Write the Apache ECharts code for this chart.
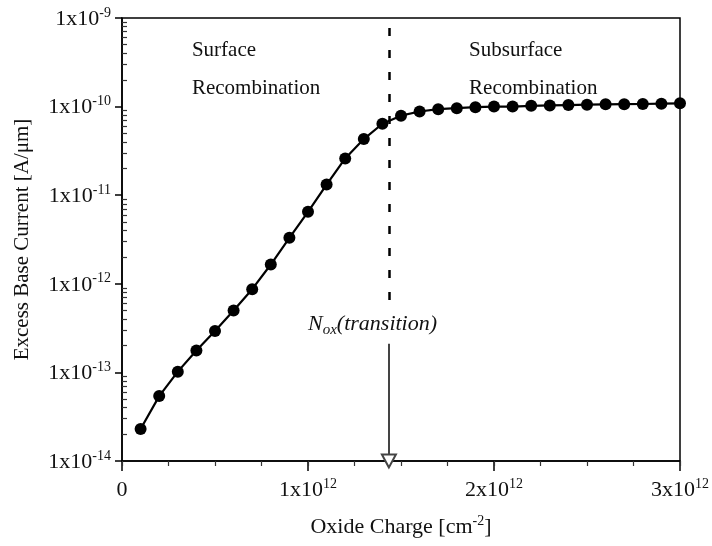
<!DOCTYPE html>
<html><head><meta charset="utf-8">
<script src="https://cdn.jsdelivr.net/npm/echarts@6/dist/echarts.min.js"></script>
<style>html,body{margin:0;padding:0;background:#fff}#c{width:712px;height:546px}</style>
</head><body><div id="c"></div>
<script>
// Data
const oxideCharge = [0.1e12,0.2e12,0.3e12,0.4e12,0.5e12,0.6e12,0.7e12,0.8e12,0.9e12,1.0e12,
  1.1e12,1.2e12,1.3e12,1.4e12,1.5e12,1.6e12,1.7e12,1.8e12,1.9e12,2.0e12,
  2.1e12,2.2e12,2.3e12,2.4e12,2.5e12,2.6e12,2.7e12,2.8e12,2.9e12,3.0e12];
const baseCurrent = [2.3e-14,5.4e-14,1.02e-13,1.77e-13,2.93e-13,5.0e-13,8.7e-13,1.65e-12,3.3e-12,6.5e-12,
  1.32e-11,2.6e-11,4.3e-11,6.4e-11,7.9e-11,8.8e-11,9.35e-11,9.6e-11,9.85e-11,1.0e-10,
  1.0e-10,1.02e-10,1.03e-10,1.04e-10,1.05e-10,1.06e-10,1.065e-10,1.07e-10,1.08e-10,1.09e-10];
const xTickLabels = {0:'0', 1:'1x10', 2:'2x10', 3:'3x10'};
const xTickExponent = '12';
const transitionX = 1.435e12;
const regionLabels = [
  {x:0.376e12, y:2.65e-10, lines:['Surface','Recombination']},
  {x:1.866e12, y:2.65e-10, lines:['Subsurface','Recombination']}
];
const transitionLabel = {x:1.0e12, y:3.4e-13};

// minor tick values (log10 space)
const minorLog = [];
for (let d=-14; d<-9; d++) for (let k=2;k<=9;k++) minorLog.push(d+Math.log10(k));

const serif = '"Liberation Serif", "DejaVu Serif", serif';
const txt = '#111';
const richSup = {
  b:{fontFamily:serif,fontSize:22,color:txt,lineHeight:24,verticalAlign:'bottom'},
  s:{fontFamily:serif,fontSize:14,color:txt,lineHeight:14,verticalAlign:'top'}
};
const chart = echarts.init(document.getElementById('c'));
chart.setOption({
  animation:false,
  backgroundColor:'#fff',
  grid:{left:122,right:32,top:18,bottom:85,show:true,borderColor:'#000',borderWidth:1.5,backgroundColor:'transparent'},
  xAxis:[{
    type:'value',min:0,max:3e12,interval:1e12,
    axisLine:{show:true,lineStyle:{color:'#000',width:1.5}},
    axisTick:{show:true,length:10,lineStyle:{color:'#000',width:1.5}},
    splitLine:{show:false},
    axisLabel:{margin:16,
      formatter:function(v){const n=Math.round(v/1e12); return n===0?'{b|0}':'{b|'+xTickLabels[n]+'}{s|'+xTickExponent+'}';},
      rich:richSup},
    name:'{b|Oxide Charge [cm}{s|-2}{b|]}',nameLocation:'middle',nameGap:53,
    nameTextStyle:{rich:richSup}
  },{
    type:'value',min:0,max:3e12,interval:0.25e12,position:'bottom',
    axisLine:{show:false},axisTick:{show:true,length:5,lineStyle:{color:'#333',width:1.2}},
    axisLabel:{show:false},splitLine:{show:false}
  }],
  yAxis:[{
    type:'log',logBase:10,min:1e-14,max:1e-9,
    axisLine:{show:true,lineStyle:{color:'#000',width:1.5}},
    axisTick:{show:true,length:7,lineStyle:{color:'#000',width:1.5}},
    splitLine:{show:false},
    axisLabel:{margin:11,
      formatter:function(v){const e=Math.round(Math.log10(v)); return '{b|1x10}{s|'+e+'}';},
      rich:richSup},
    name:'Excess Base Current [A/\u03bcm]',nameLocation:'middle',nameGap:89,
    nameTextStyle:{fontFamily:serif,fontSize:21,color:txt}
  },{
    type:'value',min:-14,max:-9,position:'left',
    axisLine:{show:false},
    axisTick:{show:true,inside:true,length:5,customValues:minorLog,lineStyle:{color:'#333',width:1.2}},
    axisLabel:{show:false},splitLine:{show:false}
  }],
  series:[{
    type:'line',xAxisIndex:0,yAxisIndex:0,
    data:oxideCharge.map((x,i)=>[x,baseCurrent[i]]),
    symbol:'circle',symbolSize:12,
    lineStyle:{color:'#000',width:2.2},itemStyle:{color:'#000'},
    markLine:{silent:true,label:{show:false},
      data:[
        [{coord:[transitionX,7.7e-10],symbol:'none',lineStyle:{type:[8,14],width:2.5,color:'#000'}},
         {coord:[transitionX,6e-13],symbol:'none'}],
        [{coord:[transitionX,2.1e-13],symbol:'none',lineStyle:{type:'solid',width:2,color:'#444'}},
         {coord:[transitionX,1e-14],symbol:'emptyTriangle',symbolSize:[14,13]}]
      ]}
  },{
    type:'scatter',xAxisIndex:0,yAxisIndex:0,symbolSize:1,itemStyle:{color:'#fff',opacity:1},silent:true,
    emphasis:{disabled:true},
    data:regionLabels.map(d=>({value:[d.x,d.y],lines:d.lines})),
    label:{show:true,position:'inside',align:'left',verticalAlign:'middle',textBorderWidth:0,textBorderColor:'transparent',
      formatter:p=>p.data.lines.map(l=>'{t|'+l+'}').join('\n'),
      rich:{t:{fontFamily:serif,fontSize:21,color:txt,lineHeight:38,textBorderWidth:0}}}
  },{
    type:'scatter',xAxisIndex:0,yAxisIndex:0,symbolSize:1,itemStyle:{color:'#fff',opacity:1},silent:true,
    emphasis:{disabled:true},
    data:[[transitionLabel.x,transitionLabel.y]],
    label:{show:true,position:'inside',align:'left',verticalAlign:'middle',textBorderWidth:0,textBorderColor:'transparent',
      formatter:'{i|N}{sub|ox}{i|(transition)}',
      rich:{i:{fontFamily:serif,fontStyle:'italic',fontSize:22,color:txt,lineHeight:24,verticalAlign:'top'},
            sub:{fontFamily:serif,fontStyle:'italic',fontSize:15,color:txt,lineHeight:16,verticalAlign:'bottom'}}}
  }]
});
</script></body></html>
